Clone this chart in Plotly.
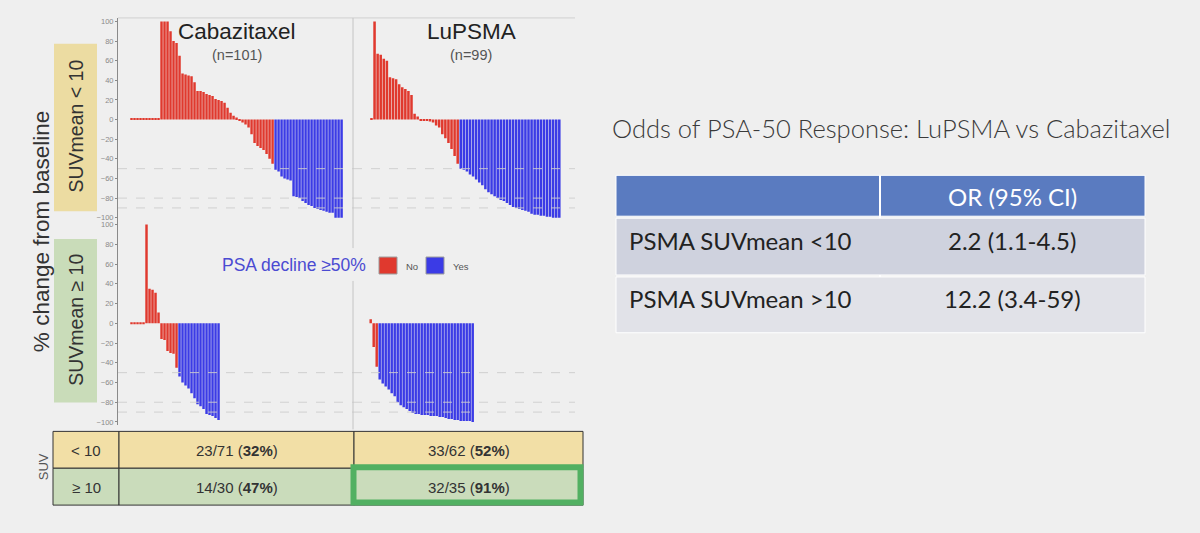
import plotly.graph_objects as go

W, H = 1200, 533

# % change in PSA from baseline, one bar per patient, sorted
cabazi_lo = [1, 1, 1, 1, 1, 1, 1, 1, 1, 1,
             100, 100, 100, 90, 80, 78, 65, 47, 46, 45, 44, 38, 29, 29, 28, 26,
             25, 24, 21, 20, 19, 17, 12, 7, 4, 2,
             -1, -3, -5, -8, -15, -24, -27, -29, -31, -35, -40, -45,
             -51, -53, -58, -60, -61, -62, -78, -79, -80, -83, -85, -87, -88,
             -90, -91, -92, -93, -94, -95, -95, -100, -100, -100]
lupsma_lo = [1, 100, 67, 66, 62, 60, 43, 42, 41, 36, 33, 31, 29, 25, 6, 3,
             -0.5, -1, -1.5, -2, -3, -6, -8, -15, -19, -24, -30, -37, -45,
             -50, -51, -53, -56, -58, -61, -64, -67, -71, -74, -76, -78, -80,
             -82, -83, -85, -87, -89, -90, -91, -92, -93, -94, -96, -97, -97,
             -98, -98, -99, -99, -100, -100, -100]
cabazi_hi = [1, 1, 1, 1, 1, 100, 35, 34, 31, 11,
             -16, -17, -28, -30, -31, -45,
             -54, -60, -63, -66, -71, -76, -82, -84, -87, -92, -93, -94, -96, -98]
lupsma_hi = [4, -24, -44,
             -57, -61, -64, -67, -71, -74, -80, -83, -85, -87, -89, -91, -92,
             -92, -93, -93, -93, -94, -94, -94, -95, -95, -96, -97, -97, -98,
             -98, -99, -99, -99, -99, -100]

arms = ["Cabazitaxel", "LuPSMA"]
arm_n = ["(n=101)", "(n=99)"]
strata = ["SUVmean < 10", "SUVmean ≥ 10"]
ref_lines = [-50, -80, -90]
yticks = [100, 80, 60, 40, 20, 0, -20, -40, -60, -80, -100]

suv_rows = ["< 10", "≥ 10"]
cabazi_resp = ["23/71 (<b>32%</b>)", "14/30 (<b>47%</b>)"]
lupsma_resp = ["33/62 (<b>52%</b>)", "32/35 (<b>91%</b>)"]

or_title = "Odds of PSA-50 Response: LuPSMA vs Cabazitaxel"
or_header = "OR (95% CI)"
or_labels = ["PSMA SUVmean <10", "PSMA SUVmean >10"]
or_values = ["2.2 (1.1-4.5)", "12.2 (3.4-59)"]

RED = "#e0392e"
BLUE = "#3b3be6"
BG = "#efefef"


def X(px):
    return px / W


def Y(py):
    return 1 - py / H


fig = go.Figure()

# (values, axis index, x pixel domain, x range, y pixel domain)
panels = [
    (cabazi_lo, 1, (118, 353), (-4.5, 73.8), (17, 221)),
    (lupsma_lo, 2, (353, 575), (-6.0, 66.1), (17, 221)),
    (cabazi_hi, 3, (118, 353), (-4.5, 73.8), (221, 426)),
    (lupsma_hi, 4, (353, 575), (-5.9, 68.1), (221, 426)),
]

shapes = []
for vals, k, (xa, xb), xr, (ya, yb) in panels:
    sfx = "" if k == 1 else str(k)
    colors = [BLUE if v <= -50 else RED for v in vals]
    fig.add_trace(go.Bar(x=list(range(len(vals))), y=vals, marker_color=colors,
                         marker_line_width=0, xaxis="x" + sfx, yaxis="y" + sfx,
                         showlegend=False, hoverinfo="skip"))
    left = k in (1, 3)
    fig.layout["xaxis" + sfx] = dict(domain=[X(xa), X(xb)], range=list(xr),
                                     visible=False, anchor="y" + sfx)
    fig.layout["yaxis" + sfx] = dict(
        domain=[Y(yb), Y(ya)], range=[-103.5, 103.5], anchor="x" + sfx,
        showgrid=False, zeroline=False,
        showline=left, linecolor="#8a8a8a", linewidth=1,
        ticks="outside" if left else "", ticklen=2, tickcolor="#8a8a8a",
        tickvals=yticks if left else [], showticklabels=left,
        tickfont=dict(size=7.5, color="#8a8a8a"))
    for r in ref_lines:
        shapes.append(dict(type="line", xref="x" + sfx + " domain", x0=0, x1=1,
                           yref="y" + sfx, y0=r, y1=r, layer="above",
                           line=dict(color="rgba(205,205,205,0.9)", width=1, dash="dash")))

# panel frame lines
shapes.append(dict(type="line", xref="paper", yref="paper", x0=X(118), x1=X(575),
                   y0=Y(17), y1=Y(17), line=dict(color="#d0d0d0", width=1)))
for a, b in [(17, 248), (281, 430)]:
    shapes.append(dict(type="line", xref="paper", yref="paper", x0=X(353), x1=X(353),
                       y0=Y(a), y1=Y(b), line=dict(color="#c4c4c4", width=1)))

# strip boxes
strip_y = [(43, 211), (239, 403)]
strip_fill = ["#ecdca2", "#c9dcb9"]
for (a, b), fc in zip(strip_y, strip_fill):
    shapes.append(dict(type="rect", xref="paper", yref="paper", x0=X(54), x1=X(97),
                       y0=Y(b), y1=Y(a), fillcolor=fc, line_width=0, layer="below"))

ann = []
for (a, b), s in zip(strip_y, strata):
    ann.append(dict(x=X(76), y=Y((a + b) / 2 - 1), text=s, textangle=-90,
                    font=dict(size=19.5, color="#333333")))
ann.append(dict(x=X(41), y=Y(232), text="% change from baseline", textangle=-90,
                font=dict(size=22.5, color="#333333")))
for cx, t, n in zip([237, 471], arms, arm_n):
    ann.append(dict(x=X(cx), y=Y(31), text=t, font=dict(size=22.5, color="#222222")))
    ann.append(dict(x=X(cx), y=Y(54), text=n, font=dict(size=14.5, color="#555555")))

# legend
ann.append(dict(x=X(294), y=Y(265), text="PSA decline ≥50%",
                font=dict(size=17.5, color="#4b4bd2")))
for x0, fc, lab in [(379, RED, "No"), (426, BLUE, "Yes")]:
    shapes.append(dict(type="rect", xref="paper", yref="paper", x0=X(x0), x1=X(x0 + 18),
                       y0=Y(274), y1=Y(257), fillcolor=fc,
                       line=dict(color="#9a9a9a", width=1)))
    ann.append(dict(x=X(x0 + 25), y=Y(266), text=lab, xanchor="left",
                    font=dict(size=9.5, color="#555555")))

# response table under the panels
cols = [(53, 119), (119, 354), (354, 583)]
rows = [(432, 469), (469, 506)]
row_fill = ["#f2dfa6", "#cadcbb"]
for i, (ra, rb) in enumerate(rows):
    texts = [suv_rows[i], cabazi_resp[i], lupsma_resp[i]]
    for (ca, cb), t in zip(cols, texts):
        shapes.append(dict(type="rect", xref="paper", yref="paper", x0=X(ca), x1=X(cb),
                           y0=Y(rb), y1=Y(ra), fillcolor=row_fill[i],
                           line=dict(color="#333333", width=1)))
        ann.append(dict(x=X((ca + cb) / 2), y=Y((ra + rb) / 2 + 1), text=t,
                        font=dict(size=15, color="#333333")))
shapes.append(dict(type="rect", xref="paper", yref="paper", x0=X(353.5), x1=X(580.5),
                   y0=Y(503.5), y1=Y(468), line=dict(color="#52b062", width=6)))
ann.append(dict(x=X(43), y=Y(468), text="SUV", textangle=-90,
                font=dict(size=13, color="#555555")))

# odds ratio table on the right
ann.append(dict(x=X(891), y=Y(127), text=or_title,
                font=dict(family="Lato", size=25.5, weight=300, color="#3a3a3a")))
shapes.append(dict(type="rect", xref="paper", yref="paper", x0=X(616), x1=X(1145),
                   y0=Y(216), y1=Y(175), fillcolor="#5a7bc0", line=dict(color="white", width=1)))
shapes.append(dict(type="line", xref="paper", yref="paper", x0=X(880), x1=X(880),
                   y0=Y(333), y1=Y(175), line=dict(color="white", width=2), layer="above"))
ann.append(dict(x=X(1012), y=Y(196), text=or_header,
                font=dict(family="Lato", size=24, color="white")))
or_rows = [(218, 275), (277, 333)]
or_fill = ["#cfd2de", "#e1e2e8"]
for (ra, rb), fc, lab, val in zip(or_rows, or_fill, or_labels, or_values):
    shapes.append(dict(type="rect", xref="paper", yref="paper", x0=X(616), x1=X(1145),
                       y0=Y(rb), y1=Y(ra), fillcolor=fc, line=dict(color="white", width=1)))
    ann.append(dict(x=X(627), y=Y(ra + 22), text=lab, xanchor="left",
                    font=dict(family="Lato", size=24, color="#222222")))
    ann.append(dict(x=X(1012), y=Y(ra + 22), text=val,
                    font=dict(family="Lato", size=24, color="#222222")))

for a in ann:
    a.update(xref="paper", yref="paper", showarrow=False)
    a.setdefault("xanchor", "center")
    a.setdefault("yanchor", "middle")

fig.update_layout(
    width=W, height=H, margin=dict(l=0, r=0, t=0, b=0),
    paper_bgcolor=BG, plot_bgcolor=BG, bargap=0.18,
    font=dict(family="Liberation Sans, Arial, sans-serif"),
    shapes=shapes, annotations=ann,
)

# drop the default page margin so the figure fills the window
fig.write_html("out.html", config={"displayModeBar": False},
               post_script="document.body.style.margin='0';document.body.style.overflow='hidden';")
